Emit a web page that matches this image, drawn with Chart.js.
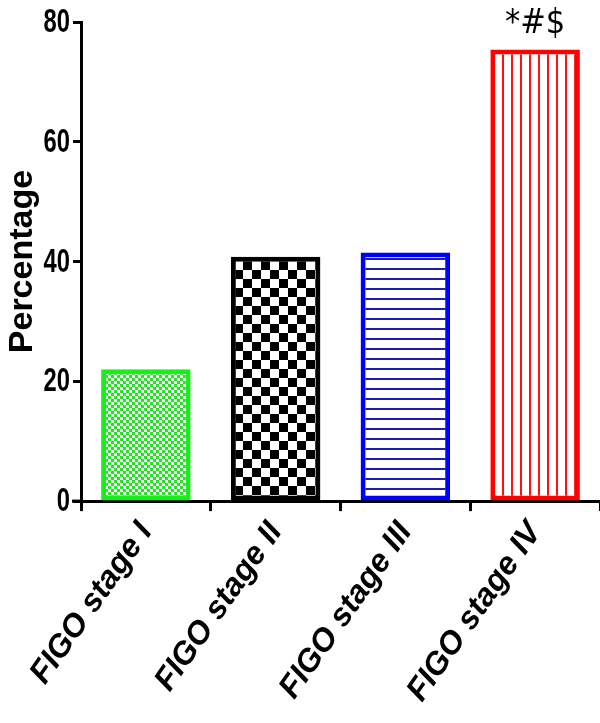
<!DOCTYPE html>
<html>
<head>
<meta charset="utf-8">
<script src="https://cdn.jsdelivr.net/npm/chart.js@4"></script>
<style>
  html, body { margin: 0; padding: 0; background: #fff; }
  #wrap { width: 600px; height: 723px; }
</style>
</head>
<body>
<div id="wrap"><canvas id="chartStages"></canvas></div>
<script>
/* data */
const categories = ['FIGO stage I', 'FIGO stage II', 'FIGO stage III', 'FIGO stage IV'];
const percentages = [22, 40.8, 41.5, 75.4];
const significance = ['', '', '', '*#$'];
const yTicks = [0, 20, 40, 60, 80];

const borderColors = ['#1aee1a', '#000000', '#0000ff', '#ff0000'];

// small canvas patterns for the bar fills
function makePattern(kind, color) {
    var c = document.createElement('canvas');
    var g = c.getContext('2d');
    if (kind === 'fineCheck') {
        c.width = 6; c.height = 6;
        g.fillStyle = '#fff'; g.fillRect(0, 0, 6, 6);
        g.fillStyle = color;
        g.fillRect(0, 0, 3, 3); g.fillRect(3, 3, 3, 3);
    } else if (kind === 'bigCheck') {
        c.width = 18; c.height = 18;
        g.fillStyle = '#fff'; g.fillRect(0, 0, 18, 18);
        g.fillStyle = color;
        g.fillRect(0, 0, 9, 9); g.fillRect(9, 9, 9, 9);
    } else if (kind === 'hLines') {
        c.width = 10; c.height = 10;
        g.fillStyle = '#fff'; g.fillRect(0, 0, 10, 10);
        g.fillStyle = color; g.fillRect(0, 8, 10, 2);
    } else {
        c.width = 9; c.height = 10;
        g.fillStyle = '#fff'; g.fillRect(0, 0, 9, 10);
        g.fillStyle = color; g.fillRect(7, 0, 2, 10);
    }
    return g.createPattern(c, 'repeat');
}

const fills = [
    makePattern('fineCheck', '#22e622'),
    makePattern('bigCheck', '#000000'),
    makePattern('hLines', '#1c1cb4'),
    makePattern('vLines', '#ff1010')
];

// narrow y tick numbers, the *#$ marks above the bars,
// and the x axis running a bit past the y axis
const markPlugin = {
    id: 'marks',
    afterDatasetsDraw(chart) {
        var ctx = chart.ctx;
        var yScale = chart.scales.y;
        var meta = chart.getDatasetMeta(0);
        ctx.save();
        ctx.fillStyle = '#000';

        ctx.font = 'bold 33px "Liberation Sans", Arial, sans-serif';
        ctx.textAlign = 'right';
        ctx.textBaseline = 'middle';
        yTicks.forEach(function (v) {
            ctx.save();
            ctx.translate(yScale.right - 11, yScale.getPixelForValue(v) + 1);
            ctx.scale(0.72, 1);
            ctx.fillText(String(v), 0, 0);
            ctx.restore();
        });

        ctx.font = '34px "DejaVu Sans Condensed", sans-serif';
        ctx.textAlign = 'center';
        ctx.textBaseline = 'bottom';
        meta.data.forEach(function (bar, i) {
            if (significance[i]) ctx.fillText(significance[i], bar.x, bar.y - 8);
        });

        var yBase = yScale.getPixelForValue(0);
        ctx.strokeStyle = '#000';
        ctx.lineWidth = 3;
        ctx.beginPath();
        ctx.moveTo(chart.chartArea.left - 9, yBase);
        ctx.lineTo(chart.chartArea.left, yBase);
        ctx.stroke();
        ctx.restore();
    }
};

var canvas = document.getElementById('chartStages').getContext('2d');
var stageChart = new Chart(canvas, {
    type: 'bar',
    data: {
        labels: categories,
        datasets: [{
            label: 'Percentage',
            data: percentages,
            backgroundColor: fills,
            borderColor: borderColors,
            borderWidth: 5,
            borderSkipped: false,
            barPercentage: 0.69,
            categoryPercentage: 1
        }]
    },
    options: {
        responsive: true,
        maintainAspectRatio: false,
        animation: false,
        layout: { padding: { top: 22, right: 0, bottom: 10, left: 0 } },
        plugins: {
            legend: { display: false },
            tooltip: { enabled: false }
        },
        scales: {
            x: {
                grid: { drawOnChartArea: false, color: '#000', tickLength: 10, tickWidth: 3 },
                border: { color: '#000', width: 3 },
                ticks: {
                    color: '#000',
                    minRotation: 55,
                    maxRotation: 55,
                    padding: 4,
                    font: { family: '"Liberation Sans", Arial, sans-serif', size: 32, weight: 'bold', style: 'italic' }
                }
            },
            y: {
                min: 0,
                max: 80,
                afterBuildTicks: function (axis) {
                    axis.ticks = yTicks.map(function (v) { return { value: v }; });
                },
                afterFit: function (axis) { axis.width = 81; },
                grid: { drawOnChartArea: false, color: '#000', tickLength: 8, tickWidth: 3 },
                border: { color: '#000', width: 3 },
                // numbers are drawn narrower by the plugin above
                ticks: { display: false },
                title: {
                    display: true,
                    text: 'Percentage',
                    color: '#000',
                    padding: { top: 2, bottom: 0 },
                    font: { family: '"Liberation Sans", Arial, sans-serif', size: 34, weight: 'bold' }
                }
            }
        }
    },
    plugins: [markPlugin]
});
</script>
</body>
</html>
